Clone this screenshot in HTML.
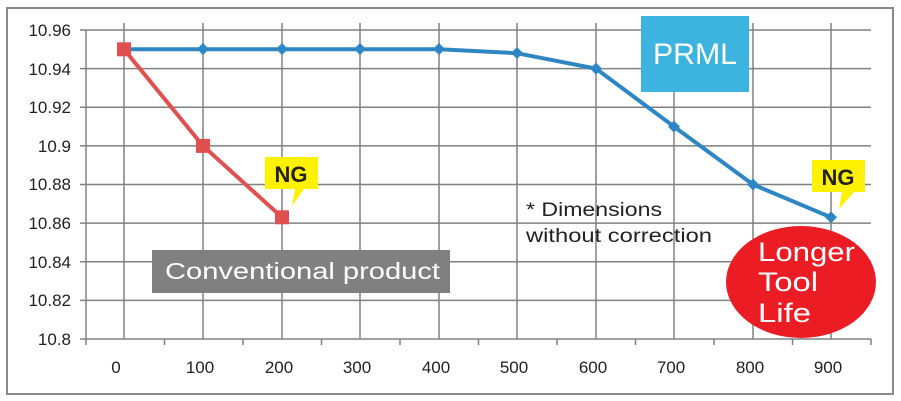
<!DOCTYPE html>
<html><head><meta charset="utf-8"><style>
body{margin:0;background:#fff}
svg{display:block;font-family:"Liberation Sans",sans-serif}
</style></head><body>
<svg width="901" height="401" viewBox="0 0 901 401">
<rect x="7" y="8" width="886" height="386" fill="#fff" stroke="#8a8a8a" stroke-width="2"/>
<g stroke="#808080" stroke-width="1.5">
<line x1="80" y1="30" x2="871" y2="30"/>
<line x1="80" y1="68.6" x2="871" y2="68.6"/>
<line x1="80" y1="107.3" x2="871" y2="107.3"/>
<line x1="80" y1="145.9" x2="871" y2="145.9"/>
<line x1="80" y1="184.5" x2="871" y2="184.5"/>
<line x1="80" y1="223.1" x2="871" y2="223.1"/>
<line x1="80" y1="261.8" x2="871" y2="261.8"/>
<line x1="80" y1="300.4" x2="871" y2="300.4"/>
<line x1="80" y1="339" x2="871" y2="339"/>
<line x1="86" y1="30" x2="86" y2="345"/>
<line x1="124" y1="23" x2="124" y2="339"/>
<line x1="203" y1="23" x2="203" y2="339"/>
<line x1="282" y1="23" x2="282" y2="339"/>
<line x1="360" y1="23" x2="360" y2="339"/>
<line x1="439" y1="23" x2="439" y2="339"/>
<line x1="517" y1="23" x2="517" y2="339"/>
<line x1="596" y1="23" x2="596" y2="339"/>
<line x1="674" y1="23" x2="674" y2="339"/>
<line x1="753" y1="23" x2="753" y2="339"/>
<line x1="831" y1="23" x2="831" y2="339"/>
<line x1="164.5" y1="339" x2="164.5" y2="345"/>
<line x1="243" y1="339" x2="243" y2="345"/>
<line x1="321.5" y1="339" x2="321.5" y2="345"/>
<line x1="400" y1="339" x2="400" y2="345"/>
<line x1="478.5" y1="339" x2="478.5" y2="345"/>
<line x1="557" y1="339" x2="557" y2="345"/>
<line x1="635.5" y1="339" x2="635.5" y2="345"/>
<line x1="714" y1="339" x2="714" y2="345"/>
<line x1="792.5" y1="339" x2="792.5" y2="345"/>
<line x1="871" y1="339" x2="871" y2="345"/>
</g>
<g font-size="17" fill="#222" text-anchor="end">
<text x="71" y="36">10.96</text><text x="71" y="75">10.94</text><text x="71" y="113">10.92</text>
<text x="71" y="152">10.9</text><text x="71" y="190">10.88</text><text x="71" y="229">10.86</text>
<text x="71" y="268">10.84</text><text x="71" y="306">10.82</text><text x="71" y="345">10.8</text>
</g>
<g font-size="17" fill="#222" text-anchor="middle">
<text x="116" y="373">0</text><text x="200" y="373">100</text><text x="279" y="373">200</text>
<text x="357" y="373">300</text><text x="436" y="373">400</text><text x="514" y="373">500</text>
<text x="593" y="373">600</text><text x="671" y="373">700</text><text x="750" y="373">800</text><text x="828" y="373">900</text>
</g>
<polyline points="124,49.3 203,49.3 282,49.3 360,49.3 439,49.3 517,53.2 596,68.6 674,126.6 753,184.5 831,217.3" fill="none" stroke="#2e86c4" stroke-width="4"/>
<g fill="#2e86c4">
<path d="M203,43 l6,6 l-6,6 l-6,-6z"/><path d="M282,43 l6,6 l-6,6 l-6,-6z"/><path d="M360,43 l6,6 l-6,6 l-6,-6z"/>
<path d="M439,43 l6,6 l-6,6 l-6,-6z"/><path d="M517,47 l6,6 l-6,6 l-6,-6z"/><path d="M596,62.6 l6,6 l-6,6 l-6,-6z"/>
<path d="M674,120.6 l6,6 l-6,6 l-6,-6z"/><path d="M753,178.5 l6,6 l-6,6 l-6,-6z"/><path d="M831,211.3 l6,6 l-6,6 l-6,-6z"/>
</g>
<polyline points="124,49.3 203,145.9 282,217.3" fill="none" stroke="#e0504f" stroke-width="4"/>
<g fill="#e0504f">
<rect x="117" y="42.3" width="14" height="14"/><rect x="196" y="138.9" width="14" height="14"/><rect x="275" y="210.3" width="14" height="14"/>
</g>
<rect x="641" y="16" width="108" height="76" fill="#3db4df"/>
<text x="653" y="64" font-size="30" fill="#fff" textLength="84" lengthAdjust="spacingAndGlyphs">PRML</text>
<rect x="152" y="250" width="298" height="43" fill="#808080"/>
<text x="165" y="279" font-size="23" fill="#fff" textLength="275" lengthAdjust="spacingAndGlyphs">Conventional product</text>
<path d="M265,157 h53 v32 h-14 l-12,17 l3,-17 h-30z" fill="#fff200"/>
<text x="291" y="182" font-size="22" font-weight="bold" fill="#222" text-anchor="middle">NG</text>
<path d="M812,160 h53 v32 h-11 l-15,17 l3,-17 h-30z" fill="#fff200"/>
<text x="838" y="185" font-size="22" font-weight="bold" fill="#222" text-anchor="middle">NG</text>
<text x="526" y="216" font-size="19" fill="#222" textLength="136" lengthAdjust="spacingAndGlyphs">* Dimensions</text>
<text x="526" y="242" font-size="19" fill="#222" textLength="186" lengthAdjust="spacingAndGlyphs">without correction</text>
<ellipse cx="801" cy="282" rx="75" ry="56" fill="#ec1c24"/>
<g font-size="27" fill="#fff">
<text x="758" y="261" textLength="97" lengthAdjust="spacingAndGlyphs">Longer</text><text x="758" y="291" textLength="60" lengthAdjust="spacingAndGlyphs">Tool</text><text x="758" y="322" textLength="53" lengthAdjust="spacingAndGlyphs">Life</text>
</g>
</svg>
</body></html>
